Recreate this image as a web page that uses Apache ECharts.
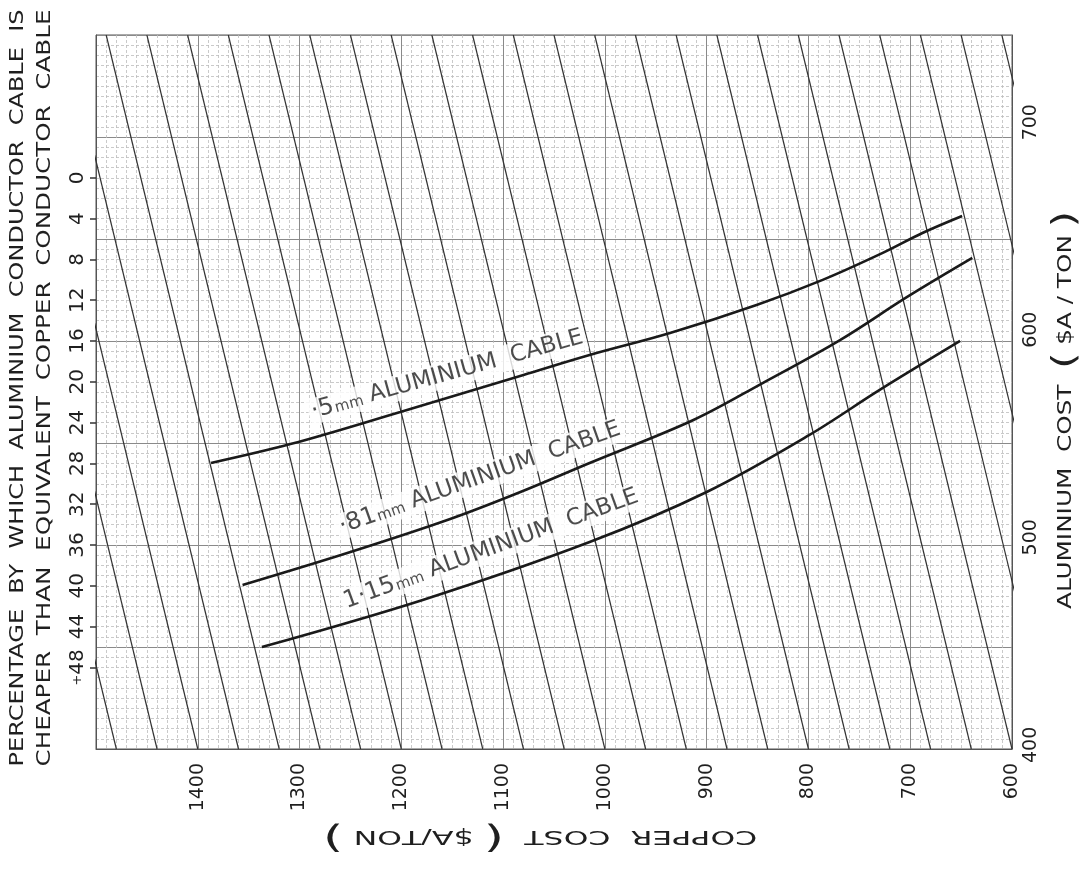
<!DOCTYPE html>
<html>
<head>
<meta charset="utf-8">
<script src="https://cdn.jsdelivr.net/npm/echarts@6/dist/echarts.min.js"></script>
<style>
  html, body { margin: 0; padding: 0; background: #ffffff; }
  #chart { width: 1085px; height: 879px; }
</style>
</head>
<body>
<div id="chart"></div>
<script>
// Copper cost axis labels ($A/ton), drawn along the bottom
const copperTicks = [600, 700, 800, 900, 1000, 1100, 1200, 1300, 1400];
// Aluminium cost axis labels ($A/ton), drawn on the right
const aluminiumTicks = [400, 500, 600, 700];
// Percentage scale on the left
const percentTicks = [0, 4, 8, 12, 16, 20, 24, 28, 32, 36, 40, 44, 48];

// Sloping guide lines: copper cost where each line meets the top edge
// (aluminium 742) and the bottom edge (aluminium 398)
const guideLineTop = [1650, 1610, 1570, 1530, 1490, 1450, 1410, 1370, 1330, 1290, 1250, 1210, 1170,
  1130, 1090, 1050, 1010, 970, 930, 890, 850, 810, 770, 730, 690, 650, 610];
const guideLineBottom = [1480, 1440, 1400, 1360, 1320, 1280, 1240, 1200, 1160, 1120, 1080, 1040, 1000,
  960, 920, 880, 840, 800, 760, 720, 680, 640, 600, 560, 520, 480, 440];

// Cable curves: [copper cost, aluminium cost]
const cable050 = [[1387, 535.8], [1309, 544.9], [1201, 560.4], [1080, 578.2], [1015, 587.8], [936, 598.4],
  [851, 611.9], [786, 624], [727, 637], [688, 646.6], [649, 654.8]];
const cable081 = [[1356, 477], [1250, 492.9], [1152, 508.8], [1083, 521.8], [1015, 535.8], [913, 556.5],
  [845, 574.3], [769, 595], [703, 615.8], [639, 634.6]];
const cable115 = [[1337, 447.1], [1179, 469.8], [1015, 497.7], [900, 521.8], [799, 549.3], [730, 571],
  [651, 594.6]];

// Curve captions: size text, anchor [copper, aluminium], angle in degrees
const captionSizes = ['·5', '·81', '1·15'];
const captionAnchors = [[1155, 578.5], [1123, 528.6], [1112, 494.4]];
const captionAngles = [15.5, 19.5, 20];

const FONT = 'DejaVu Sans';
const INK = '#1f1f1f';

const chart = echarts.init(document.getElementById('chart'), null, { renderer: 'canvas' });

const guideSeries = guideLineTop.map((top, i) => ({
  type: 'line',
  xAxisIndex: 0,
  yAxisIndex: 0,
  data: [[top, 742], [guideLineBottom[i], 398]],
  symbol: 'none',
  clip: true,
  silent: true,
  z: 3,
  lineStyle: { color: '#333333', width: 1.2 }
}));

const curveSeries = [cable050, cable081, cable115].map(pts => ({
  type: 'line',
  xAxisIndex: 0,
  yAxisIndex: 0,
  data: pts,
  smooth: 0.35,
  symbol: 'none',
  clip: true,
  silent: true,
  z: 5,
  lineStyle: { color: '#1a1a1a', width: 2.6 }
}));

const captionSeries = {
  type: 'scatter',
  xAxisIndex: 0,
  yAxisIndex: 0,
  symbolSize: 0,
  silent: true,
  z: 6,
  data: captionAnchors.map((p, i) => ({
    value: p,
    label: {
      show: true,
      position: 'inside',
      rotate: captionAngles[i],
      formatter: '{n|' + captionSizes[i] + '}{u|mm} {t|ALUMINIUM  CABLE}',
      backgroundColor: '#ffffff',
      padding: [1, 3, 1, 3],
      rich: {
        n: { fontFamily: FONT, fontSize: 24, color: INK },
        u: { fontFamily: FONT, fontSize: 15, color: INK, padding: [6, 4, 0, 1] },
        t: { fontFamily: FONT, fontSize: 23, color: INK }
      }
    }
  }))
};

const minorGrid = { show: true, lineStyle: { color: '#bdbdbd', width: 0.8, type: [3, 2] } };
const majorGrid = { show: true, lineStyle: { color: '#8a8a8a', width: 1 } };

const option = {
  backgroundColor: '#ffffff',
  animation: false,
  grid: {
    left: 96, top: 35, width: 916, height: 714,
    show: true, borderColor: '#555', borderWidth: 1, backgroundColor: 'transparent'
  },
  xAxis: [{
    type: 'value',
    min: 600, max: 1500, interval: 100,
    inverse: true,
    axisLine: { show: true, onZero: false, lineStyle: { color: '#555', width: 1 } },
    axisTick: { show: false },
    splitLine: majorGrid,
    minorTick: { show: false, splitNumber: 10 },
    minorSplitLine: minorGrid,
    axisLabel: {
      show: true,
      customValues: copperTicks,
      rotate: 90,
      margin: 14,
      fontFamily: FONT, fontSize: 19, color: INK,
      formatter: v => String(v)
    }
  }],
  yAxis: [{
    // aluminium cost, read on the right
    type: 'value',
    position: 'right',
    min: 398, max: 742,
    axisLine: { show: true, onZero: false, lineStyle: { color: '#555', width: 1 } },
    axisTick: { show: false },
    splitLine: { show: false },
    axisLabel: {
      show: true,
      customValues: aluminiumTicks,
      rotate: 90,
      margin: 10,
      fontFamily: FONT, fontSize: 19, color: INK,
      formatter: v => String(v)
    }
  }, {
    // percentage, read on the left
    type: 'value',
    position: 'left',
    min: -14, max: 56,
    inverse: true,
    axisLine: { show: true, onZero: false, lineStyle: { color: '#555', width: 1 } },
    axisTick: { show: true, customValues: percentTicks, length: 6, lineStyle: { color: '#333', width: 1.5 } },
    splitLine: { show: false },
    axisLabel: {
      show: true,
      customValues: percentTicks,
      rotate: 90,
      margin: 8,
      fontFamily: FONT, fontSize: 20, color: INK,
      formatter: v => (v === 48 ? '{s|+}48' : String(v)),
      rich: { s: { fontFamily: FONT, fontSize: 13, color: INK } }
    }
  }, {
    // same percentage scale, used only for the horizontal ruling (10 % majors, 1 % minors)
    type: 'value',
    position: 'left',
    min: -14, max: 56, interval: 10,
    inverse: true,
    axisLine: { show: false, onZero: false },
    axisTick: { show: false },
    axisLabel: { show: false },
    splitLine: majorGrid,
    minorTick: { show: false, splitNumber: 10 },
    minorSplitLine: minorGrid
  }],
  graphic: [
    {
      type: 'text', x: 18, y: 388, rotation: Math.PI / 2, scaleX: 1.2,
      style: {
        text: 'PERCENTAGE  BY  WHICH  ALUMINIUM  CONDUCTOR  CABLE  IS',
        fontFamily: FONT, fontSize: 20, fill: INK,
        textAlign: 'center', textVerticalAlign: 'middle'
      }
    },
    {
      type: 'text', x: 45, y: 388, rotation: Math.PI / 2, scaleX: 1.23,
      style: {
        text: 'CHEAPER  THAN  EQUIVALENT  COPPER  CONDUCTOR  CABLE',
        fontFamily: FONT, fontSize: 20, fill: INK,
        textAlign: 'center', textVerticalAlign: 'middle'
      }
    },
    {
      type: 'text', x: 540, y: 836, rotation: Math.PI, scaleX: 1.66,
      style: {
        text: '{t|COPPER  COST  }{p|(}{t| $A/TON }{p|)}',
        rich: {
          t: { fontFamily: FONT, fontSize: 19, fill: INK, color: INK },
          p: { fontFamily: FONT, fontSize: 32, fill: INK, color: INK }
        },
        fill: INK,
        textAlign: 'center', textVerticalAlign: 'middle'
      }
    },
    {
      type: 'text', x: 1066, y: 410, rotation: Math.PI / 2, scaleX: 1.3,
      style: {
        text: '{t|ALUMINIUM  COST  }{p|(}{t| $A / TON }{p|)}',
        rich: {
          t: { fontFamily: FONT, fontSize: 19, fill: INK, color: INK },
          p: { fontFamily: FONT, fontSize: 32, fill: INK, color: INK }
        },
        fill: INK,
        textAlign: 'center', textVerticalAlign: 'middle'
      }
    }
  ],
  series: [...guideSeries, ...curveSeries, captionSeries]
};

chart.setOption(option);
</script>
</body>
</html>
